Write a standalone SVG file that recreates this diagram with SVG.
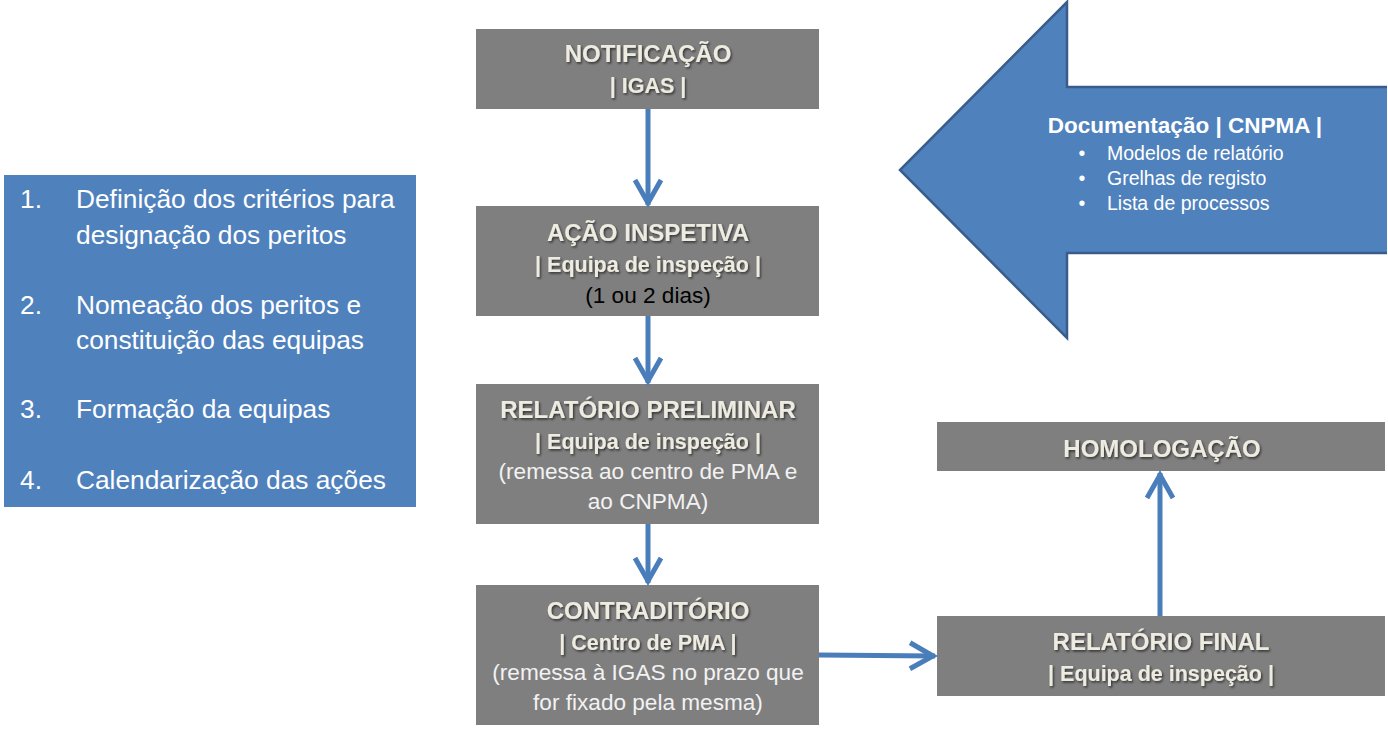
<svg xmlns="http://www.w3.org/2000/svg" width="1388" height="733" viewBox="0 0 1388 733">
<style>
.box{fill:#7f7f7f}
.t{font-family:"Liberation Sans",Arial,sans-serif;font-weight:bold;fill:#eeece1;text-anchor:middle;filter:url(#sh)}
.title{font-size:24px}
.sub{font-size:21.5px}
.reg{font-family:"Liberation Sans",Arial,sans-serif;font-size:22.6px;fill:#f2f2f2;text-anchor:middle}
.blk{fill:#000}
.lst{font-family:"Liberation Sans",Arial,sans-serif;font-size:26.3px;fill:#fff}
.doc{font-family:"Liberation Sans",Arial,sans-serif;fill:#fff}
.conn{stroke:#4a7ebb;stroke-width:5;fill:none;marker-end:url(#arr)}
</style>
<defs>
<filter id="sh" x="-10%" y="-30%" width="120%" height="160%">
<feDropShadow dx="1.3" dy="1.6" stdDeviation="1" flood-color="#000" flood-opacity="0.6"/>
</filter>
<marker id="arr" markerUnits="userSpaceOnUse" markerWidth="40" markerHeight="40" viewBox="-30 -20 40 40" refX="0" refY="0" orient="auto">
<path d="M-25,-13 L-2,0 L-25,13" fill="none" stroke="#4a7ebb" stroke-width="5"/>
</marker>
</defs>
<rect width="1388" height="733" fill="#fff"/>

<g id="lista">
<rect x="4" y="175" width="412" height="332" fill="#4f81bd"/>
<text class="lst" x="20" y="208">1.</text>
<text class="lst" x="76" y="208">Definição dos critérios para</text>
<text class="lst" x="76" y="244">designação dos peritos</text>
<text class="lst" x="20" y="314">2.</text>
<text class="lst" x="76" y="314">Nomeação dos peritos e</text>
<text class="lst" x="76" y="349">constituição das equipas</text>
<text class="lst" x="20" y="418">3.</text>
<text class="lst" x="76" y="418">Formação da equipas</text>
<text class="lst" x="20" y="489">4.</text>
<text class="lst" x="76" y="489">Calendarização das ações</text>
</g>

<g id="documentacao">
<path d="M1387,87 L1067,87 L1067,2 L900,170 L1067,338 L1067,253 L1387,253" fill="#4f81bd" stroke="#385d8a" stroke-width="2.5" stroke-linejoin="miter"/>
<text class="doc" x="1185" y="133" font-size="22.5" font-weight="bold" text-anchor="middle">Documentação | CNPMA |</text>
<text class="doc" x="1082" y="160" font-size="19.5" text-anchor="middle">•</text>
<text class="doc" x="1107" y="160" font-size="19.5">Modelos de relatório</text>
<text class="doc" x="1082" y="185" font-size="19.5" text-anchor="middle">•</text>
<text class="doc" x="1107" y="185" font-size="19.5">Grelhas de registo</text>
<text class="doc" x="1082" y="210" font-size="19.5" text-anchor="middle">•</text>
<text class="doc" x="1107" y="210" font-size="19.5">Lista de processos</text>
</g>

<g id="notificacao">
<rect class="box" x="476" y="29" width="343" height="80"/>
<text class="t title" x="648" y="62">NOTIFICAÇÃO</text>
<text class="t sub" x="648" y="93">| IGAS |</text>
</g>

<g id="acao-inspetiva">
<rect class="box" x="476" y="206" width="343" height="110"/>
<text class="t title" x="648" y="241">AÇÃO INSPETIVA</text>
<text class="t sub" x="648" y="272">| Equipa de inspeção |</text>
<text class="reg blk" x="648" y="303">(1 ou 2 dias)</text>
</g>

<g id="relatorio-preliminar">
<rect class="box" x="476" y="384" width="343" height="140"/>
<text class="t title" x="648" y="418">RELATÓRIO PRELIMINAR</text>
<text class="t sub" x="648" y="449">| Equipa de inspeção |</text>
<text class="reg" x="648" y="479">(remessa ao centro de PMA e</text>
<text class="reg" x="648" y="509">ao CNPMA)</text>
</g>

<g id="contraditorio">
<rect class="box" x="476" y="585" width="343" height="140"/>
<text class="t title" x="648" y="619">CONTRADITÓRIO</text>
<text class="t sub" x="648" y="650">| Centro de PMA |</text>
<text class="reg" x="648" y="680">(remessa à IGAS no prazo que</text>
<text class="reg" x="648" y="710">for fixado pela mesma)</text>
</g>

<g id="homologacao">
<rect class="box" x="937" y="422" width="448" height="49"/>
<text class="t title" x="1162" y="457">HOMOLOGAÇÃO</text>
</g>

<g id="relatorio-final">
<rect class="box" x="937" y="616" width="448" height="80"/>
<text class="t title" x="1161" y="650">RELATÓRIO FINAL</text>
<text class="t sub" x="1161" y="681">| Equipa de inspeção |</text>
</g>

<g id="connectors">
<line class="conn" x1="648" y1="109" x2="648" y2="205"/>
<line class="conn" x1="648" y1="316" x2="648" y2="383"/>
<line class="conn" x1="648" y1="524" x2="648" y2="583"/>
<line class="conn" x1="819" y1="655" x2="935" y2="656"/>
<line class="conn" x1="1160" y1="616" x2="1160" y2="473"/>
</g>
</svg>
